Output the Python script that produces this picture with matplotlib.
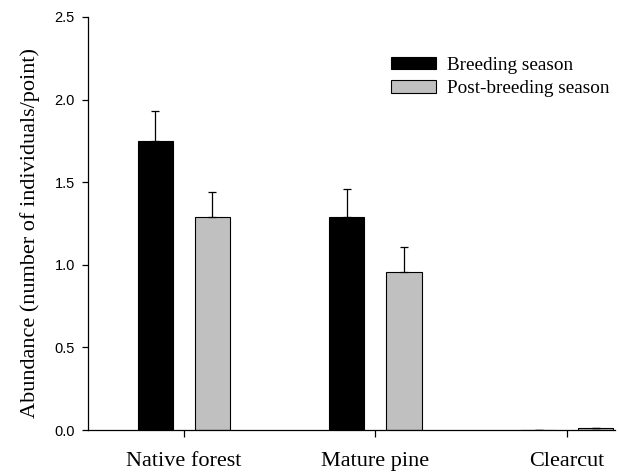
import matplotlib
matplotlib.use("Agg")
import matplotlib.pyplot as plt
import numpy as np
from matplotlib.patches import Patch

categories = ["Native forest", "Mature pine", "Clearcut"]
breeding = [1.75, 1.29, 0.0]
breeding_se = [0.18, 0.17, 0.0]
post_breeding = [1.29, 0.955, 0.012]
post_breeding_se = [0.15, 0.15, 0.0]
series_labels = ["Breeding season", "Post-breeding season"]
yticks = [0.0, 0.5, 1.0, 1.5, 2.0, 2.5]

fig = plt.figure(figsize=(6.19, 4.75), dpi=100)
ax = fig.add_axes([88/619, 1-430/475, (615-88)/619, (430-17)/475])

x = np.arange(len(categories))
w = 0.183
off = 0.149
ax.bar(x - off, breeding, w, color="black", edgecolor="black", linewidth=0.8,
       yerr=[np.zeros(3), breeding_se], capsize=3,
       error_kw=dict(ecolor="black", elinewidth=0.9, capthick=0.9))
ax.bar(x + off, post_breeding, w, color="#c0c0c0", edgecolor="black", linewidth=0.8,
       yerr=[np.zeros(3), post_breeding_se], capsize=3,
       error_kw=dict(ecolor="black", elinewidth=0.9, capthick=0.9))

ax.set_xlim(-0.5, 2.25)
ax.set_ylim(0, 2.5)
ax.set_yticks(yticks)
ax.set_yticklabels([f"{v:.1f}" for v in yticks], fontfamily="Liberation Sans", fontsize=10.5)
ax.set_xticks(x)
ax.set_xticklabels(categories, fontfamily="Liberation Serif", fontsize=16)
ax.tick_params(axis="y", direction="out", length=4.5, width=0.9, color="black", pad=5)
ax.tick_params(axis="x", direction="out", length=5, width=0.9, color="black", pad=11)
ax.spines["top"].set_visible(False)
ax.spines["right"].set_visible(False)
for s in ["left", "bottom"]:
    ax.spines[s].set_linewidth(0.9)
ax.set_ylabel("Abundance (number of individuals/point)", fontfamily="Liberation Serif",
              fontsize=16)
ax.yaxis.set_label_coords(-0.091, 0.478)

handles = [Patch(facecolor="black", edgecolor="black", linewidth=0.8),
           Patch(facecolor="#c0c0c0", edgecolor="black", linewidth=0.8)]
fig.legend(handles, series_labels, loc="upper left",
           bbox_to_anchor=(391/619, 1-57/475), bbox_transform=fig.transFigure,
           frameon=False, prop={"family": "Liberation Serif", "size": 13.8},
           handlelength=2.35, handleheight=0.62, handletextpad=0.55, labelspacing=0.33,
           borderpad=0, borderaxespad=0)

fig.savefig("out.png", dpi=100)
